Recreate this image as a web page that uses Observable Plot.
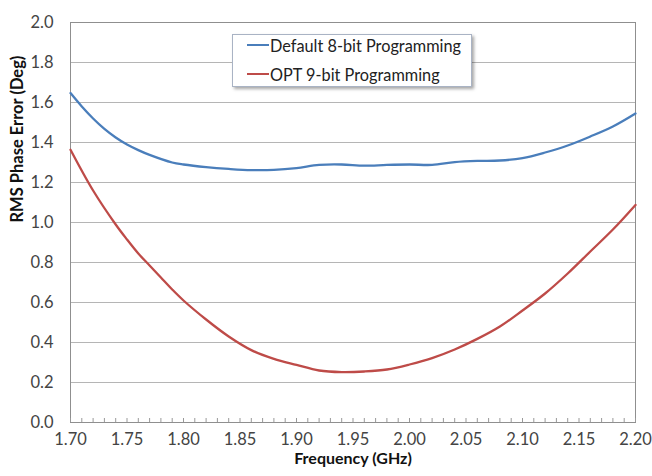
<!DOCTYPE html>
<html>
<head>
<meta charset="utf-8">
<script src="https://cdn.jsdelivr.net/npm/d3@7"></script>
<script src="https://cdn.jsdelivr.net/npm/@observablehq/plot@0.6"></script>
<style>
  body { margin: 0; background: white; }
  #wrap { position: relative; width: 652px; height: 476px; }
  #legend {
    position: absolute; left: 232px; top: 34px; width: 238px; height: 51px;
    background: white; border: 1px solid #a9b3c4;
    box-shadow: 2px 2px 3px rgba(0,0,0,0.35);
    font-family: Lato, sans-serif; font-size: 16.3px; color: #222;
  }
  .item { position: absolute; left: 14px; display: flex; align-items: center; height: 20px; }
  .sw { width: 22px; height: 2px; margin-right: 1px; }
</style>
</head>
<body>
<div id="wrap"></div>
<script>
const seriesNames = ["Default 8-bit Programming", "OPT 9-bit Programming"];
const seriesColors = ["#4a7ebb", "#be4b48"];

const blueFreq = [1.70, 1.71, 1.72, 1.73, 1.74, 1.75, 1.76, 1.77, 1.79, 1.80, 1.82, 1.84, 1.86, 1.88, 1.90, 1.92, 1.94, 1.96, 1.98, 2.00, 2.02, 2.04, 2.06, 2.08, 2.10, 2.12, 2.14, 2.16, 2.18, 2.20];
const blueVals = [1.647, 1.58, 1.52, 1.468, 1.425, 1.39, 1.362, 1.338, 1.30, 1.29, 1.277, 1.268, 1.262, 1.263, 1.272, 1.288, 1.29, 1.284, 1.288, 1.29, 1.288, 1.302, 1.308, 1.31, 1.322, 1.35, 1.385, 1.43, 1.48, 1.545];

const redFreq = [1.70, 1.72, 1.74, 1.75, 1.76, 1.77, 1.78, 1.79, 1.80, 1.82, 1.84, 1.86, 1.88, 1.90, 1.92, 1.94, 1.96, 1.98, 2.00, 2.02, 2.04, 2.06, 2.08, 2.10, 2.12, 2.14, 2.16, 2.18, 2.20];
const redVals = [1.364, 1.16, 0.99, 0.915, 0.845, 0.785, 0.725, 0.665, 0.61, 0.515, 0.43, 0.362, 0.318, 0.288, 0.26, 0.252, 0.255, 0.265, 0.29, 0.322, 0.365, 0.418, 0.48, 0.56, 0.645, 0.745, 0.855, 0.965, 1.088];

const xTicks = [1.70, 1.75, 1.80, 1.85, 1.90, 1.95, 2.00, 2.05, 2.10, 2.15, 2.20];
const xMinorTicks = d3.range(0, 51).map(i => +(1.70 + i * 0.01).toFixed(2));
const yTicks = [0, 0.2, 0.4, 0.6, 0.8, 1.0, 1.2, 1.4, 1.6, 1.8, 2.0];

const xLabel = "Frequency (GHz)";
const yLabel = "RMS Phase Error (Deg)";

const blue = blueFreq.map((f, i) => ({f, v: blueVals[i]}));
const red = redFreq.map((f, i) => ({f, v: redVals[i]}));

const chart = Plot.plot({
  width: 652, height: 476,
  marginLeft: 70, marginRight: 17, marginTop: 22, marginBottom: 54,
  style: { fontFamily: "Lato, sans-serif", fontSize: "16.5px", color: "#444", background: "white" },
  x: { domain: [1.70, 2.20] },
  y: { domain: [0, 2] },
  marks: [
    Plot.gridY(yTicks, { stroke: "#b5b5b5", strokeOpacity: 1 }),
    Plot.frame({ stroke: "#8f8f8f" }),
    Plot.axisX(xMinorTicks, { tickSize: -4, tickFormat: () => "", stroke: "#999", label: null }),
    Plot.text(xTicks, { x: d => d, frameAnchor: "bottom", dy: 22, text: d3.format(".2f"), fill: "#444", fontSize: 16.5 }),
    Plot.axisY(yTicks, { tickSize: 0, tickPadding: 17, tickFormat: d3.format(".1f"), label: null }),
    Plot.line(blue, { x: "f", y: "v", stroke: seriesColors[0], strokeWidth: 2.3, curve: "catmull-rom" }),
    Plot.line(red, { x: "f", y: "v", stroke: seriesColors[1], strokeWidth: 2.3, curve: "catmull-rom" }),
    Plot.text([xLabel], { frameAnchor: "bottom", dy: 41, fontWeight: "bold", fontSize: 16, fill: "#111" }),
    Plot.text([yLabel], { frameAnchor: "left", dx: -53, rotate: -90, fontWeight: "bold", fontSize: 16.5, fill: "#111" })
  ]
});
const wrap = document.getElementById("wrap");
wrap.appendChild(chart);

const legend = document.createElement("div");
legend.id = "legend";
seriesNames.forEach((name, i) => {
  const it = document.createElement("div");
  it.className = "item";
  it.style.top = (i === 0 ? 0 : 29) + "px";
  const sw = document.createElement("span");
  sw.className = "sw";
  sw.style.background = seriesColors[i];
  const t = document.createElement("span");
  t.textContent = name;
  it.appendChild(sw); it.appendChild(t);
  legend.appendChild(it);
});
wrap.appendChild(legend);
</script>
</body>
</html>
